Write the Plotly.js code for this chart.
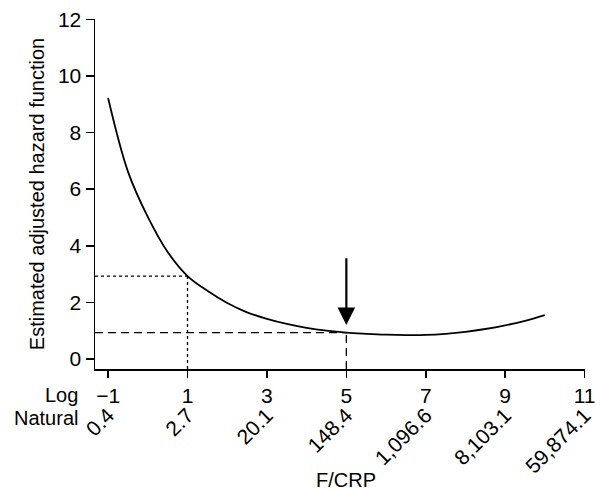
<!DOCTYPE html>
<html>
<head>
<meta charset="utf-8">
<script src="https://cdn.plot.ly/plotly-3.0.1.min.js"></script>
<style>html,body{margin:0;padding:0;background:#fff;}#chart{width:596px;height:490px;}</style>
</head>
<body>
<div id="chart"></div>
<script>
// Curve: log(F/CRP) vs estimated adjusted hazard function
const logFcrp = [-1, -0.5, 0, 0.5, 1, 1.5, 2, 2.5, 3, 3.5, 4, 4.5, 5, 5.5, 6, 6.5, 7, 7.5, 8, 8.5, 9, 9.5, 10];
const hazard  = [9.22, 6.62, 5.02, 3.78, 2.93, 2.41, 1.98, 1.65, 1.42, 1.24, 1.1, 1.0, 0.93, 0.89, 0.86, 0.845, 0.85, 0.89, 0.96, 1.06, 1.19, 1.35, 1.55];

// Tick labels
const logTicks = [-1, 1, 3, 5, 7, 9, 11];
const logLabels = ['\u22121', '1', '3', '5', '7', '9', '11'];
const naturalLabels = ['0.4', '2.7', '20.1', '148.4', '1,096.6', '8,103.1', '59,874.1'];
const yTicks = [0, 2, 4, 6, 8, 10, 12];

// Reference lines
const dottedRef = {x: 1, y: 2.93};
const dashedRef = {x: 5, y: 0.93};
const arrowTip = {x: 5, y: 1.2};
const arrowTail = {x: 5, y: 3.61};

const xRange = [-1.33, 11.01];
const yRange = [-0.353, 12.01];
const FONT = 'Liberation Sans, Arial, Helvetica, sans-serif';

const traces = [
  {x: logFcrp, y: hazard, type: 'scatter', mode: 'lines',
   line: {color: '#000', width: 1.8, shape: 'spline', smoothing: 1},
   hoverinfo: 'skip', showlegend: false},
  // carrier for the second (natural-scale) label row
  {x: logTicks, y: logTicks.map(() => null), xaxis: 'x2', yaxis: 'y', type: 'scatter', mode: 'markers',
   hoverinfo: 'skip', showlegend: false}
];

const shapes = [
  {type: 'line', xref: 'x', yref: 'y', x0: xRange[0], x1: dottedRef.x, y0: dottedRef.y, y1: dottedRef.y, line: {color: '#000', width: 1.3, dash: 'dot'}},
  {type: 'line', xref: 'x', yref: 'y', x0: dottedRef.x, x1: dottedRef.x, y0: yRange[0], y1: dottedRef.y, line: {color: '#000', width: 1.3, dash: 'dot'}},
  {type: 'line', xref: 'x', yref: 'y', x0: xRange[0], x1: dashedRef.x, y0: dashedRef.y, y1: dashedRef.y, line: {color: '#000', width: 1.3, dash: '8px,5px'}},
  {type: 'line', xref: 'x', yref: 'y', x0: dashedRef.x, x1: dashedRef.x, y0: yRange[0], y1: dashedRef.y, line: {color: '#000', width: 1.3, dash: '8px,5px'}}
];

const annotations = [
  {x: arrowTip.x, y: arrowTip.y, xref: 'x', yref: 'y', ax: arrowTail.x, ay: arrowTail.y, axref: 'x', ayref: 'y',
   text: '', showarrow: true, arrowhead: 2, arrowsize: 1.6, arrowwidth: 2.2, arrowcolor: '#000', standoff: 0},
  {x: 0, y: 0, xref: 'paper', yref: 'paper', xanchor: 'right', yanchor: 'middle', xshift: -15, yshift: -26,
   text: 'Log', showarrow: false, font: {family: FONT, size: 20, color: '#000'}},
  {x: 0, y: 0, xref: 'paper', yref: 'paper', xanchor: 'right', yanchor: 'middle', xshift: -15, yshift: -49,
   text: 'Natural', showarrow: false, font: {family: FONT, size: 20, color: '#000'}},
  {x: 5, y: 0, xref: 'x', yref: 'paper', xanchor: 'center', yanchor: 'middle', yshift: -111,
   text: 'F/CRP', showarrow: false, font: {family: FONT, size: 20, color: '#000'}}
];

const layout = {
  width: 596, height: 490,
  margin: {l: 95, r: 11, t: 19, b: 121, pad: 0},
  paper_bgcolor: '#fff', plot_bgcolor: '#fff',
  font: {family: FONT, size: 20, color: '#000'},
  showlegend: false,
  xaxis: {
    range: xRange, tickmode: 'array', tickvals: logTicks, ticktext: logLabels,
    showgrid: false, zeroline: false, showline: true, linecolor: '#000', linewidth: 1.5,
    ticks: 'outside', ticklen: 7, tickwidth: 1.5, tickcolor: '#000',
    tickfont: {family: FONT, size: 21, color: '#000'}, ticklabeloverflow: 'allow',
    automargin: false, fixedrange: true
  },
  xaxis2: {
    overlaying: 'x', anchor: 'y', side: 'bottom',
    range: xRange, tickmode: 'array', tickvals: logTicks, ticktext: naturalLabels, tickangle: -45,
    showgrid: false, zeroline: false, showline: false, ticks: '',
    tickfont: {family: FONT, size: 21, color: '#000'}, ticklabeloverflow: 'allow',
    ticklabelstandoff: 29,
    automargin: false, fixedrange: true
  },
  yaxis: {
    range: yRange, tickmode: 'array', tickvals: yTicks,
    showgrid: false, zeroline: false, showline: true, linecolor: '#000', linewidth: 1.5,
    ticks: 'outside', ticklen: 8, tickwidth: 1.5, tickcolor: '#000',
    tickfont: {family: FONT, size: 21, color: '#000'},
    title: {text: 'Estimated adjusted hazard function', font: {family: FONT, size: 20, color: '#000'}, standoff: 8},
    automargin: false, fixedrange: true
  },
  shapes: shapes,
  annotations: annotations
};

Plotly.newPlot('chart', traces, layout, {displayModeBar: false, staticPlot: true});
</script>
</body>
</html>
